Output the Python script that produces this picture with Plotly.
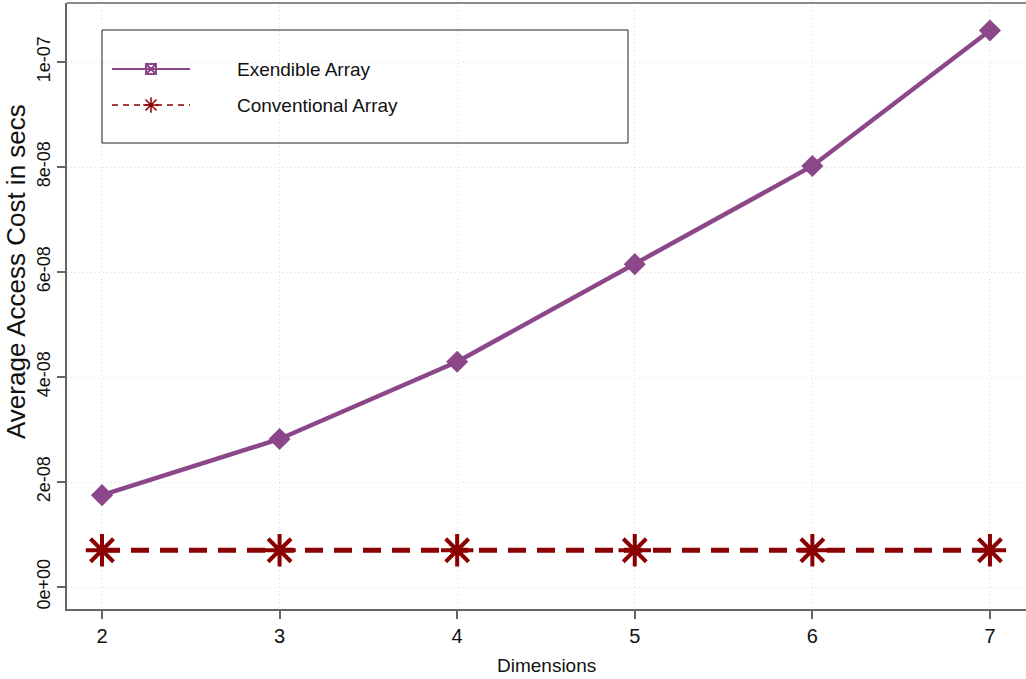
import plotly.graph_objects as go

dims = [2, 3, 4, 5, 6, 7]
extendible = [1.75e-8, 2.82e-8, 4.29e-8, 6.15e-8, 8.02e-8, 1.06e-7]
conventional = [7.0e-9, 7.0e-9, 7.0e-9, 7.0e-9, 7.0e-9, 7.0e-9]
y_tickvals = [0, 2e-8, 4e-8, 6e-8, 8e-8, 1e-7]
y_ticktext = ["0e+00", "2e-08", "4e-08", "6e-08", "8e-08", "1e-07"]
series_names = ["Exendible Array", "Conventional Array"]

PURPLE = "#8B4789"
DARKRED = "#8B0000"
SANS = "Liberation Sans, Arial, sans-serif"

fig = go.Figure()
fig.add_trace(go.Scatter(
    x=dims, y=extendible, mode="lines+markers", name=series_names[0],
    line=dict(color=PURPLE, width=4.5),
    marker=dict(symbol="diamond", size=17, color=PURPLE),
    showlegend=False))
fig.add_trace(go.Scatter(
    x=dims, y=conventional, mode="lines+markers", name=series_names[1],
    line=dict(color=DARKRED, width=5, dash="18px,11px"),
    marker=dict(symbol="asterisk-open", size=27, color=DARKRED,
                line=dict(color=DARKRED, width=4)),
    showlegend=False))

# legend drawn on a pixel-scaled overlay axis
fig.add_trace(go.Scatter(x=[112, 190], y=[69, 69], mode="lines", xaxis="x2", yaxis="y2",
                         line=dict(color=PURPLE, width=2), showlegend=False, hoverinfo="skip"))
fig.add_trace(go.Scatter(x=[151], y=[69], mode="markers", xaxis="x2", yaxis="y2",
                         marker=dict(symbol="square-x-open", size=10, color=PURPLE,
                                     line=dict(color=PURPLE, width=2)),
                         showlegend=False, hoverinfo="skip"))
fig.add_trace(go.Scatter(x=[112, 190], y=[105, 105], mode="lines", xaxis="x2", yaxis="y2",
                         line=dict(color=DARKRED, width=1.5, dash="6px,5px"),
                         showlegend=False, hoverinfo="skip"))
fig.add_trace(go.Scatter(x=[151], y=[105], mode="markers", xaxis="x2", yaxis="y2",
                         marker=dict(symbol="asterisk-open", size=13, color=DARKRED,
                                     line=dict(color=DARKRED, width=1.5)),
                         showlegend=False, hoverinfo="skip"))

annotations = [
    dict(x=235, y=69, xref="x2", yref="y2", text=series_names[0], showarrow=False,
         xanchor="left", yanchor="middle", font=dict(family=SANS, size=19, color="#111")),
    dict(x=235, y=105, xref="x2", yref="y2", text=series_names[1], showarrow=False,
         xanchor="left", yanchor="middle", font=dict(family=SANS, size=19, color="#111")),
    dict(x=(16 - 67) / 959, y=(609 - 272) / 606, xref="paper", yref="paper",
         text="Average Access Cost in secs", showarrow=False,
         textangle=-90, xanchor="center", yanchor="middle",
         font=dict(family=SANS, size=26, color="#111")),
    dict(x=0.5, y=(609 - 665) / 606, xref="paper", yref="paper", text="Dimensions",
         showarrow=False, xanchor="center", yanchor="middle",
         font=dict(family=SANS, size=19, color="#111")),
]

shapes = [
    dict(type="rect", xref="x2", yref="y2", x0=102, x1=628, y0=30, y1=143,
         line=dict(color="#222", width=1)),
    dict(type="line", xref="paper", yref="paper", x0=0, x1=1, y0=1, y1=1,
         line=dict(color="#666", width=1.5)),
]

fig.update_layout(
    width=1026, height=679,
    margin=dict(l=67, r=0, t=3, b=70),
    paper_bgcolor="white", plot_bgcolor="white",
    showlegend=False,
    annotations=annotations, shapes=shapes,
    xaxis=dict(range=[1.803, 7.203], tickvals=dims, ticks="outside", ticklen=8,
               tickcolor="#666", tickwidth=1.5, showline=True, linecolor="#666", linewidth=1.5,
               showgrid=True, gridcolor="#dcdcdc", griddash="1px,3px", gridwidth=1,
               zeroline=False, tickfont=dict(family=SANS, size=20, color="#111")),
    yaxis=dict(range=[-4.19e-9, 1.1124e-7], tickvals=y_tickvals, ticktext=y_ticktext,
               ticks="outside", ticklen=8, tickcolor="#666", tickwidth=1.5,
               showline=True, linecolor="#666", linewidth=1.5, tickangle=-90,
               showgrid=True, gridcolor="#dcdcdc", griddash="1px,3px", gridwidth=1,
               zeroline=False, tickfont=dict(family=SANS, size=18, color="#111")),
    xaxis2=dict(overlaying="x", range=[67, 1026], visible=False, fixedrange=True),
    yaxis2=dict(overlaying="y", range=[609, 3], visible=False, fixedrange=True),
)

fig.write_html("out.html")
